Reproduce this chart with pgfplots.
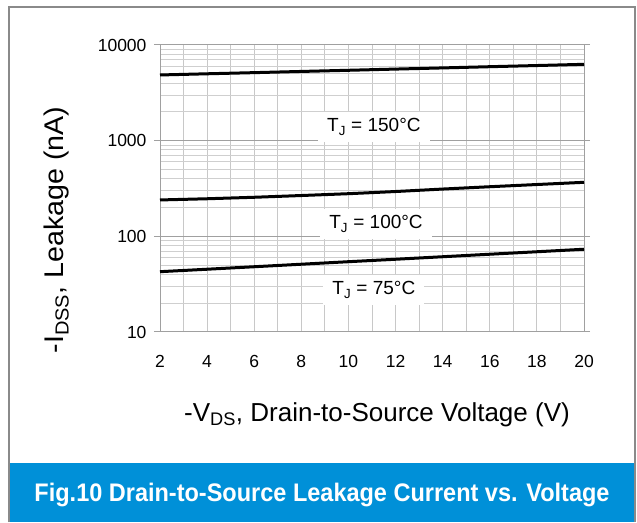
\documentclass[border=0pt]{standalone}
\usepackage{fontspec}
\setmainfont{Liberation Sans}
\usepackage{pgfplots}
\pgfplotsset{compat=1.18}
\definecolor{figblue}{HTML}{0090D8}
\definecolor{framegray}{HTML}{8A8A8A}
\definecolor{majgrid}{HTML}{A0A0A0}
\definecolor{mingrid}{HTML}{CFCFCF}
\definecolor{vgrid}{HTML}{C8C8C8}
\begin{document}
\begin{tikzpicture}[x=1pt,y=1pt]
\path[use as bounding box] (0,0) rectangle (637,522);
\fill[figblue] (10,0) rectangle (634,59);
\draw[framegray, line width=2.5pt] (9,0) -- (9,515) -- (635,515) -- (635,0);
\begin{axis}[
  at={(160pt,190pt)}, anchor=south west, scale only axis,
  width=424pt, height=287pt,
  ymode=log, xmin=2, xmax=20, ymin=10, ymax=10000,
  xtick={2,4,...,20}, minor x tick num=1,
  ytick={10,100,1000,10000}, yticklabels={10,100,1000,10000},
  grid=both,
  major x grid style={vgrid, line width=1pt},
  minor x grid style={vgrid, line width=1pt},
  major y grid style={majgrid, line width=1pt},
  minor y grid style={mingrid, line width=1pt},
  axis line style={majgrid, line width=1pt},
  tick align=outside,
  major tick length=6pt, minor tick length=0pt,
  xtick style={draw=none},
  ytick style={majgrid, line width=1pt},
  /pgf/number format/assume math mode=true,
  tick label style={font=\fontsize{17.5}{20}\selectfont},
  xticklabel style={yshift=-14pt},
  yticklabel style={xshift=-4pt},
  clip=false,
]
\addplot[black, line width=3pt] coordinates {(2,4860) (4,5000) (6,5140) (8,5290) (10,5440) (12,5600) (14,5760) (16,5930) (18,6100) (20,6280)};
\addplot[black, line width=3pt] coordinates {(2,240) (4,247) (6,256) (8,267) (10,279) (12,294) (14,312) (16,330) (18,348) (20,367)};
\addplot[black, line width=3pt] coordinates {(2,42.7) (4,45.3) (6,48.1) (8,51.1) (10,54.3) (12,57.6) (14,61.2) (16,65.0) (18,69.0) (20,73.3)};
\node[fill=white, inner xsep=9pt, inner ysep=7pt, font=\fontsize{19}{22}\selectfont] at (axis cs:11.08,1390) {T\textsubscript{J} = 150°C};
\node[fill=white, inner xsep=9pt, inner ysep=7pt, font=\fontsize{19}{22}\selectfont] at (axis cs:11.17,134.6) {T\textsubscript{J} = 100°C};
\node[fill=white, inner xsep=9pt, inner ysep=7pt, font=\fontsize{19}{22}\selectfont] at (axis cs:11.08,27.5) {T\textsubscript{J} = 75°C};
\end{axis}
\node[rotate=90, font=\fontsize{27}{30}\selectfont] at (57,292) {\scalebox{1.06}[1]{-I\textsubscript{DSS}, Leakage (nA)}};
\node[font=\fontsize{26}{30}\selectfont] at (377,107) {-V\textsubscript{DS}, Drain-to-Source Voltage (V)};
\node[white, font=\bfseries\fontsize{23.5}{28}\selectfont, yscale=1.08] at (322,27) {Fig.10 Drain-to-Source Leakage Current vs. Voltage};
\end{tikzpicture}
\end{document}
